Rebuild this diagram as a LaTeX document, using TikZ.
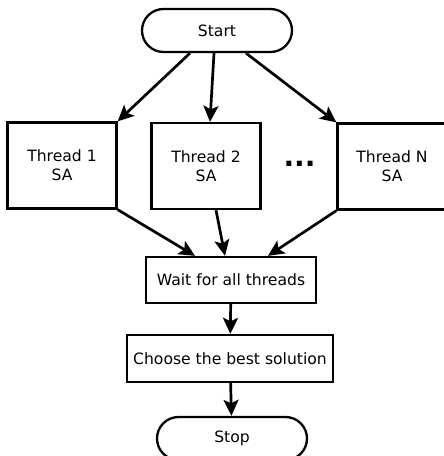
\documentclass[tikz,border=0pt]{standalone}
\usepackage{fontspec}
\setmainfont{DejaVu Sans}
\usetikzlibrary{calc,arrows.meta,positioning}

\begin{document}
\begin{tikzpicture}[x=1pt,y=1pt,->,>={Stealth[length=16pt,width=15pt,inset=3.5pt]},line width=2.7pt,
    every node/.style={font=\fontsize{15.6}{19}\selectfont,align=center,inner sep=0pt},
    term/.style={draw,line width=2.3pt,rounded corners=21.5pt,minimum width=150pt,minimum height=43pt},
    box/.style={draw,line width=2.3pt,minimum width=109pt,minimum height=86pt}]
  \useasboundingbox (0,0) rectangle (444,456);

  \node[term] (start) at (217,425.5) {Start};
  \node[box] (t1) at (62,290.5) {Thread 1\\SA};
  \node[box] (t2) at (206,290) {Thread 2\\SA};
  \node[box] (tn) at (392,289.5) {Thread N\\SA};
  \node (dots) at (299.5,292) {\fontsize{28}{28}\selectfont\bfseries ...};
  \node[box,minimum width=170pt,minimum height=46pt] (wait) at (231,176) {Wait for all threads};
  \node[box,minimum width=206pt,minimum height=47pt] (best) at (230,97.5) {Choose the best solution};
  \node[term] (stop) at (232,17.5) {Stop};

  \path
    ($(start.south)+(-27,0)$) edge (t1.north east)
    ($(start.south)+(-3,0)$) edge ($(t2.north)+(4,0)$)
    ($(start.south)+(29,0)$) edge (tn.north west)

    (t1.south east) edge ($(wait.north)+(-36,0)$)
    ($(t2.south)+(10,0)$) edge ($(wait.north)+(-6,0)$)
    (tn.south west) edge ($(wait.north)+(37,0)$)

    (wait) edge (best)
    (best) edge (stop);
\end{tikzpicture}
\end{document}
